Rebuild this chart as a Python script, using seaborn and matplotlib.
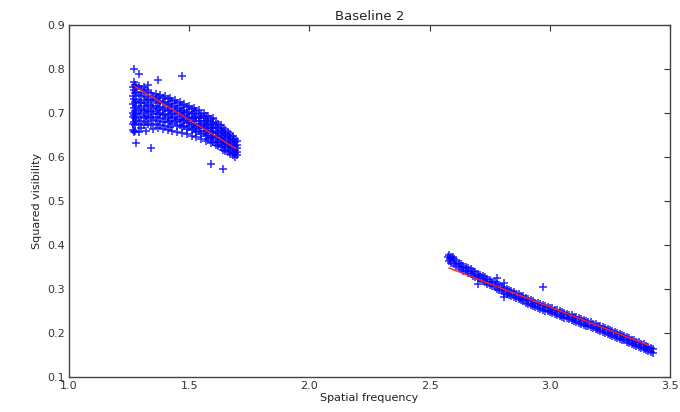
import matplotlib
matplotlib.use("Agg")
import matplotlib.pyplot as plt
import seaborn as sns
import pandas as pd

# ---- data ----
c1_x = [
    1.265, 1.265, 1.265, 1.265, 1.265, 1.265, 1.265,
    1.27, 1.27, 1.27, 1.27, 1.27, 1.27, 1.27, 1.27,
    1.275, 1.275, 1.275, 1.275, 1.275, 1.275, 1.275,
    1.28, 1.28, 1.28, 1.28, 1.28, 1.28, 1.28,
    1.29, 1.29, 1.29, 1.29, 1.29, 1.29, 1.29, 1.29,
    1.30, 1.30, 1.30, 1.30, 1.30, 1.30, 1.30,
    1.31, 1.31, 1.31, 1.31, 1.31, 1.31, 1.31,
    1.32, 1.32, 1.32, 1.32, 1.32, 1.32, 1.32,
    1.33, 1.33, 1.33, 1.33, 1.33, 1.33, 1.33,
    1.34, 1.34, 1.34, 1.34, 1.34, 1.34, 1.34,
    1.35, 1.35, 1.35, 1.35, 1.35, 1.35,
    1.36, 1.36, 1.36, 1.36, 1.36, 1.36,
    1.37, 1.37, 1.37, 1.37, 1.37, 1.37, 1.37,
    1.38, 1.38, 1.38, 1.38, 1.38, 1.38,
    1.39, 1.39, 1.39, 1.39, 1.39, 1.39,
    1.40, 1.40, 1.40, 1.40, 1.40, 1.40,
    1.41, 1.41, 1.41, 1.41, 1.41, 1.41,
    1.42, 1.42, 1.42, 1.42, 1.42, 1.42,
    1.43, 1.43, 1.43, 1.43, 1.43, 1.43,
    1.44, 1.44, 1.44, 1.44, 1.44,
    1.45, 1.45, 1.45, 1.45, 1.45, 1.45,
    1.46, 1.46, 1.46, 1.46, 1.46,
    1.47, 1.47, 1.47, 1.47, 1.47, 1.47, 1.47,
    1.48, 1.48, 1.48, 1.48, 1.48,
    1.49, 1.49, 1.49, 1.49, 1.49, 1.49,
    1.50, 1.50, 1.50, 1.50, 1.50,
    1.51, 1.51, 1.51, 1.51, 1.51, 1.51,
    1.52, 1.52, 1.52, 1.52, 1.52,
    1.53, 1.53, 1.53, 1.53, 1.53, 1.53,
    1.54, 1.54, 1.54, 1.54, 1.54,
    1.55, 1.55, 1.55, 1.55, 1.55, 1.55,
    1.56, 1.56, 1.56, 1.56, 1.56,
    1.57, 1.57, 1.57, 1.57, 1.57, 1.57,
    1.58, 1.58, 1.58, 1.58, 1.58, 1.58,
    1.59, 1.59, 1.59, 1.59, 1.59, 1.59, 1.59,
    1.60, 1.60, 1.60, 1.60, 1.60, 1.60,
    1.61, 1.61, 1.61, 1.61, 1.61, 1.61,
    1.62, 1.62, 1.62, 1.62, 1.62, 1.62,
    1.63, 1.63, 1.63, 1.63, 1.63, 1.63,
    1.64, 1.64, 1.64, 1.64, 1.64, 1.64, 1.64,
    1.65, 1.65, 1.65, 1.65, 1.65, 1.65,
    1.66, 1.66, 1.66, 1.66, 1.66, 1.66,
    1.67, 1.67, 1.67, 1.67, 1.67, 1.67,
    1.68, 1.68, 1.68, 1.68, 1.68, 1.68,
    1.69, 1.69, 1.69, 1.69, 1.69, 1.69,
    1.70, 1.70, 1.70, 1.70, 1.70,
]
c1_y = [
    0.760, 0.740, 0.720, 0.700, 0.690, 0.675, 0.662,
    0.800, 0.770, 0.752, 0.733, 0.712, 0.695, 0.680, 0.658,
    0.765, 0.745, 0.725, 0.705, 0.688, 0.672, 0.660,
    0.760, 0.748, 0.730, 0.715, 0.700, 0.684, 0.633,
    0.790, 0.762, 0.741, 0.722, 0.708, 0.690, 0.676, 0.657,
    0.755, 0.738, 0.726, 0.711, 0.697, 0.683, 0.666,
    0.760, 0.745, 0.730, 0.715, 0.702, 0.688, 0.672,
    0.752, 0.736, 0.722, 0.708, 0.694, 0.680, 0.660,
    0.765, 0.748, 0.733, 0.719, 0.704, 0.690, 0.675,
    0.745, 0.730, 0.716, 0.703, 0.689, 0.672, 0.621,
    0.740, 0.727, 0.712, 0.699, 0.684, 0.664,
    0.744, 0.731, 0.717, 0.704, 0.690, 0.676,
    0.776, 0.737, 0.724, 0.710, 0.697, 0.683, 0.665,
    0.742, 0.728, 0.713, 0.700, 0.688, 0.673,
    0.735, 0.722, 0.708, 0.695, 0.680, 0.664,
    0.738, 0.726, 0.712, 0.698, 0.686, 0.671,
    0.731, 0.718, 0.705, 0.692, 0.679, 0.662,
    0.734, 0.720, 0.708, 0.695, 0.682, 0.669,
    0.727, 0.714, 0.701, 0.688, 0.675, 0.659,
    0.730, 0.717, 0.704, 0.691, 0.679,
    0.722, 0.709, 0.697, 0.684, 0.671, 0.656,
    0.725, 0.712, 0.700, 0.687, 0.674,
    0.785, 0.718, 0.705, 0.693, 0.681, 0.668, 0.654,
    0.720, 0.708, 0.696, 0.684, 0.671,
    0.714, 0.701, 0.689, 0.677, 0.664, 0.652,
    0.716, 0.703, 0.692, 0.680, 0.668,
    0.710, 0.698, 0.686, 0.674, 0.662, 0.649,
    0.712, 0.700, 0.688, 0.676, 0.664,
    0.704, 0.692, 0.681, 0.669, 0.657, 0.645,
    0.706, 0.694, 0.683, 0.671, 0.659,
    0.699, 0.688, 0.676, 0.665, 0.653, 0.641,
    0.700, 0.689, 0.678, 0.667, 0.655,
    0.693, 0.682, 0.671, 0.660, 0.648, 0.637,
    0.694, 0.683, 0.672, 0.661, 0.650, 0.640,
    0.687, 0.676, 0.665, 0.654, 0.643, 0.632, 0.585,
    0.688, 0.677, 0.667, 0.656, 0.645, 0.634,
    0.680, 0.670, 0.660, 0.649, 0.639, 0.628,
    0.675, 0.665, 0.655, 0.645, 0.635, 0.625,
    0.672, 0.662, 0.652, 0.642, 0.632, 0.622,
    0.666, 0.656, 0.647, 0.637, 0.627, 0.617, 0.574,
    0.662, 0.652, 0.643, 0.633, 0.624, 0.614,
    0.657, 0.648, 0.639, 0.630, 0.620, 0.611,
    0.652, 0.643, 0.634, 0.625, 0.616, 0.607,
    0.648, 0.639, 0.630, 0.621, 0.612, 0.604,
    0.642, 0.634, 0.625, 0.617, 0.609, 0.601,
    0.636, 0.628, 0.620, 0.612, 0.605,
]

c2_x = [
    2.575, 2.585, 2.595,
    2.58, 2.58, 2.59, 2.59, 2.60, 2.60, 2.61, 2.61, 2.62, 2.62,
    2.63, 2.63, 2.64, 2.64, 2.65, 2.65, 2.66, 2.66, 2.67, 2.67,
    2.68, 2.68, 2.69, 2.69, 2.70, 2.70, 2.71, 2.71, 2.72, 2.72,
    2.73, 2.73, 2.74, 2.74, 2.75, 2.75, 2.76, 2.76, 2.77, 2.77,
    2.78, 2.78, 2.79, 2.79, 2.80, 2.80, 2.81, 2.81, 2.82, 2.82,
    2.83, 2.83, 2.84, 2.84, 2.85, 2.85, 2.86, 2.86, 2.87, 2.87,
    2.88, 2.88, 2.89, 2.89, 2.90, 2.90, 2.91, 2.91, 2.92, 2.92,
    2.93, 2.93, 2.94, 2.94, 2.95, 2.95, 2.96, 2.96, 2.97, 2.97,
    2.98, 2.98, 2.99, 2.99, 3.00, 3.00, 3.01, 3.01, 3.02, 3.02,
    3.03, 3.03, 3.04, 3.04, 3.05, 3.05, 3.06, 3.06, 3.07, 3.07,
    3.08, 3.08, 3.09, 3.09, 3.10, 3.10, 3.11, 3.11, 3.12, 3.12,
    3.13, 3.13, 3.14, 3.14, 3.15, 3.15, 3.16, 3.16, 3.17, 3.17,
    3.18, 3.18, 3.19, 3.19, 3.20, 3.20, 3.21, 3.21, 3.22, 3.22,
    3.23, 3.23, 3.24, 3.24, 3.25, 3.25, 3.26, 3.26, 3.27, 3.27,
    3.28, 3.28, 3.29, 3.29, 3.30, 3.30, 3.31, 3.31, 3.32, 3.32,
    3.33, 3.33, 3.34, 3.34, 3.35, 3.35, 3.36, 3.36, 3.37, 3.37,
    3.38, 3.38, 3.39, 3.39, 3.40, 3.40, 3.41, 3.41, 3.42, 3.42,
    3.43, 3.43,
    2.70, 2.78, 2.81, 2.81, 2.97,
]
c2_y = [
    0.373, 0.368, 0.372,
    0.377, 0.364, 0.372, 0.360, 0.368, 0.357, 0.364, 0.352, 0.360, 0.349,
    0.357, 0.346, 0.353, 0.342, 0.351, 0.340, 0.347, 0.336, 0.345, 0.334,
    0.341, 0.330, 0.339, 0.328, 0.335, 0.324, 0.333, 0.322, 0.329, 0.318,
    0.327, 0.316, 0.323, 0.312, 0.321, 0.310, 0.317, 0.306, 0.315, 0.304,
    0.311, 0.300, 0.309, 0.298, 0.305, 0.295, 0.303, 0.292, 0.300, 0.289,
    0.298, 0.287, 0.295, 0.284, 0.293, 0.282, 0.289, 0.279, 0.288, 0.277,
    0.284, 0.274, 0.283, 0.272, 0.279, 0.269, 0.278, 0.267, 0.274, 0.264,
    0.273, 0.262, 0.269, 0.259, 0.268, 0.257, 0.265, 0.255, 0.264, 0.253,
    0.261, 0.251, 0.260, 0.249, 0.257, 0.247, 0.256, 0.245, 0.253, 0.243,
    0.252, 0.241, 0.249, 0.239, 0.248, 0.237, 0.245, 0.235, 0.244, 0.233,
    0.241, 0.231, 0.240, 0.229, 0.237, 0.227, 0.236, 0.225, 0.233, 0.223,
    0.232, 0.221, 0.229, 0.219, 0.228, 0.217, 0.225, 0.215, 0.224, 0.213,
    0.221, 0.211, 0.220, 0.209, 0.217, 0.207, 0.216, 0.205, 0.213, 0.203,
    0.211, 0.200, 0.208, 0.198, 0.207, 0.196, 0.204, 0.194, 0.203, 0.192,
    0.199, 0.189, 0.198, 0.187, 0.195, 0.185, 0.194, 0.183, 0.190, 0.180,
    0.189, 0.178, 0.185, 0.175, 0.184, 0.173, 0.180, 0.170, 0.179, 0.168,
    0.176, 0.166, 0.174, 0.163, 0.171, 0.161, 0.169, 0.158, 0.166, 0.156,
    0.163, 0.154,
    0.312, 0.326, 0.313, 0.281, 0.305,
]

# model curves (red)
fit1_x = [1.27, 1.695]
fit1_y = [0.762, 0.619]
fit2_x = [2.58, 3.41]
fit2_y = [0.348, 0.172]

title = "Baseline 2"
xlabel = "Spatial frequency"
ylabel = "Squared visibility"
xticks = [1.0, 1.5, 2.0, 2.5, 3.0, 3.5]
yticks = [0.1, 0.2, 0.3, 0.4, 0.5, 0.6, 0.7, 0.8, 0.9]

# ---- plotting ----
sns.set_theme(style="white")
plt.rcParams['font.family'] = ['DejaVu Sans']

pts = pd.DataFrame({"x": c1_x + c2_x, "y": c1_y + c2_y})

fig = plt.figure(figsize=(6.8, 4.12), dpi=100)
ax = fig.add_axes([0.1015, 0.085, 0.884, 0.854])

sns.scatterplot(data=pts, x="x", y="y", marker="+", color="#0000ff",
                s=30, linewidth=1.1, alpha=0.85, ax=ax, zorder=2)
for fx, fy in ((fit1_x, fit1_y), (fit2_x, fit2_y)):
    sns.lineplot(x=fx, y=fy, color="#ff2020", linewidth=1.0, ax=ax,
                 zorder=3, estimator=None, sort=False)

ax.set_xlim(1.0, 3.5)
ax.set_ylim(0.1, 0.9)
ax.set_xticks(xticks)
ax.set_yticks(yticks)
ax.set_xticklabels([f"{t:.1f}" for t in xticks])
ax.set_yticklabels([f"{t:.1f}" for t in yticks])
ax.tick_params(direction="in", top=True, right=True, length=4, width=0.8,
               labelsize=8, colors="#333333", labelcolor="#333333", pad=3)
for sp in ax.spines.values():
    sp.set_color("#444444")
    sp.set_linewidth(1.0)
ax.set_title(title, fontsize=9.5, color="#222222", pad=4)
ax.set_xlabel(xlabel, fontsize=8, color="#222222", labelpad=1)
ax.set_ylabel(ylabel, fontsize=8, color="#222222", labelpad=4)

fig.savefig("out.png", dpi=100)
